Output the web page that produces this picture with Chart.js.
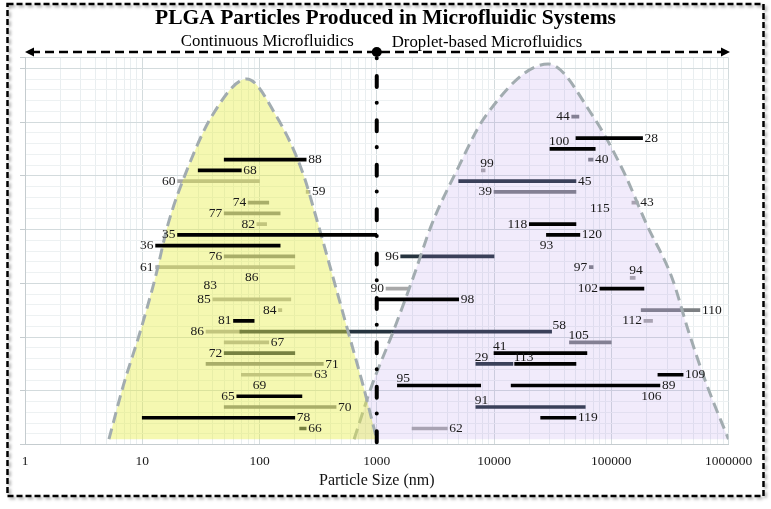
<!DOCTYPE html>
<html>
<head>
<meta charset="utf-8">
<script src="https://cdn.jsdelivr.net/npm/chart.js@4.4.1/dist/chart.umd.min.js"></script>
<style>
  html, body { margin: 0; background: #fff; }
  #contenedor { width: 771px; height: 509px; }
</style>
</head>
<body>
<div id="contenedor"><canvas id="graficaPLGA"></canvas></div>
<script>
// Datos: [referencia, fila, tamaño mínimo (nm), tamaño máximo (nm)]
const blackBars = [
    [88, 26, 50, 250], [68, 25, 30, 70], [35, 19, 20, 1000], [36, 18, 13, 150],
    [81, 11, 60, 90], [65, 4, 64, 230], [78, 2, 10, 200],
    [28, 28, 50000, 185000], [100, 27, 30000, 73000], [118, 20, 20000, 50000],
    [120, 19, 28000, 54000], [102, 14, 80000, 190000], [98, 13, 1000, 5000],
    [41, 8, 10000, 62000], [113, 7, 15000, 50000], [109, 6, 250000, 410000],
    [95, 5, 1500, 7700], [89, 5, 14000, 260000], [119, 2, 25000, 50000]
];
const slateBars = [
    [58, 10, 68, 31000], [45, 24, 5000, 50000], [96, 17, 1600, 10000],
    [29, 7, 7000, 14500], [91, 3, 7000, 60000], [72, 8, 50, 200], [66, 1, 220, 250]
];
const midGrayBars = [
    [74, 22, 80, 120], [77, 21, 50, 150], [76, 17, 50, 200], [71, 7, 35, 350],
    [70, 3, 50, 450], [39, 23, 10000, 50000], [105, 9, 44000, 100000],
    [110, 12, 180000, 570000], [97, 16, 65000, 70000], [44, 30, 46000, 53000],
    [40, 26, 64000, 70000]
];
const lightGrayBars = [
    [60, 24, 20, 100], [82, 20, 95, 115], [61, 16, 13, 200], [85, 13, 40, 185],
    [84, 12, 145, 155], [86, 10, 35, 70], [67, 9, 50, 120], [63, 6, 70, 280],
    [62, 1, 2000, 4000], [90, 14, 1200, 1900], [112, 11, 190000, 225000],
    [94, 15, 145000, 160000], [99, 25, 7800, 8400], [59, 23, 250, 270],
    [43, 22, 150000, 170000]
];
// referencias sin barra visible: [referencia, fila, tamaño (nm)]
const labelOnly = [[115, 21.5, 80000], [93, 18, 28000], [86, 15, 86], [83, 14.3, 38], [69, 5, 100], [106, 4, 220000]];

// lado de la etiqueta de cada barra (l = izquierda, r = derecha, a = arriba, ar = arriba derecha)
const blackSides = ['r', 'r', 'l', 'l', 'l', 'l', 'r', 'r', 'a', 'l', 'r', 'l', 'r', 'a', 'a', 'r', 'a', 'r', 'r'];
const slateSides = ['ar', 'r', 'l', 'a', 'a', 'l', 'r'];
const midGraySides = ['l', 'l', 'l', 'r', 'r', 'l', 'a', 'r', 'l', 'l', 'r'];
const lightGraySides = ['l', 'l', 'l', 'l', 'l', 'l', 'r', 'r', 'r', 'l', 'l', 'a', 'a', 'r', 'r'];

// Campanas de distribución
const yellowX = [5.2, 6.9, 9.6, 12.9, 16.6, 24, 39, 78, 140, 230, 316, 425, 570, 765, 1000];
const yellowY = [0, 5, 10, 15, 20, 25, 30, 33.5, 30, 25, 20, 15, 10, 5, 0];
const purpleX = [641, 908, 1380, 2040, 2950, 4820, 8410, 29000, 70200, 126000, 200000, 330000, 457000, 656000, 1000000];
const purpleY = [0, 5, 10, 15, 20, 25, 30, 34.9, 30, 25, 20, 15, 10, 5, 0];

const decades = [1, 10, 100, 1000, 10000, 100000, 1000000];
const divider = 1000;

const xTicks = [];
decades.forEach(d => {
    if (d === 1000000) { xTicks.push(d); return; }
    for (let m = 1; m <= 9; m++) xTicks.push(d * m);
});
const isDecade = v => decades.includes(v);
const tickVal = c => (c.tick ? c.tick.value : 0);

const toBars = list => list.map(b => ({ x: [b[2], b[3]], y: b[1], ref: b[0] }));
const toCurve = (xs, ys) => xs.map((x, i) => ({ x: x, y: ys[i] }));

const serif = 'Liberation Serif';
Chart.defaults.font.family = serif;

function barSet(label, list, sides, color, order) {
    return {
        type: 'bar', label: label, indexAxis: 'y', grouped: false,
        data: toBars(list), sides: sides,
        backgroundColor: color, barThickness: 3, order: order
    };
}
function bellSet(label, xs, ys, fill) {
    return {
        type: 'line', label: label, data: toCurve(xs, ys),
        borderColor: '#a2acb0', borderWidth: 3, borderDash: [11, 6],
        backgroundColor: fill, fill: 'origin', pointRadius: 0,
        cubicInterpolationMode: 'monotone', order: 1
    };
}

const decoracion = {
    id: 'decoracion',
    afterDatasetsDraw(chart) {
        const { ctx, chartArea, scales: { x, y } } = chart;
        const xd = x.getPixelForValue(divider);

        // línea de división
        ctx.save();
        ctx.strokeStyle = '#000';
        ctx.lineWidth = 4;
        ctx.lineCap = 'round';
        ctx.setLineDash([0.01, 17.6, 11, 15.8]);
        ctx.beginPath();
        ctx.moveTo(xd, chartArea.top + 0.8);
        ctx.lineTo(xd, chartArea.bottom - 1);
        ctx.stroke();
        ctx.restore();

        // etiquetas
        ctx.save();
        ctx.font = '13.5px "' + serif + '"';
        ctx.fillStyle = '#1a1a1a';
        ctx.textBaseline = 'middle';
        chart.data.datasets.forEach(ds => {
            if (!ds.sides) return;
            ds.data.forEach((d, i) => {
                const xs = x.getPixelForValue(d.x[0]);
                const xe = x.getPixelForValue(d.x[1]);
                const yp = y.getPixelForValue(d.y);
                const side = ds.sides[i];
                if (side === 'r') { ctx.textAlign = 'left'; ctx.fillText(d.ref, xe + 2, yp); }
                else if (side === 'l') { ctx.textAlign = 'right'; ctx.fillText(d.ref, xs - 2, yp); }
                else if (side === 'a') { ctx.textAlign = 'left'; ctx.fillText(d.ref, xs - 1, yp - 7); }
                else { ctx.textAlign = 'left'; ctx.fillText(d.ref, xe + 1, yp - 6); }
            });
        });
        ctx.textAlign = 'center';
        labelOnly.forEach(l => {
            ctx.fillText(l[0], x.getPixelForValue(l[2]), y.getPixelForValue(l[1]));
        });
        ctx.restore();
    },
    afterDraw(chart) {
        const { ctx, chartArea, scales: { x }, width } = chart;
        const xd = x.getPixelForValue(divider);
        const ya = chartArea.top - 5.5;
        const xl = chartArea.left;
        const xr = chartArea.right + 1.5;

        ctx.save();
        // título
        ctx.fillStyle = '#000';
        ctx.font = 'bold 21.5px "' + serif + '"';
        ctx.textAlign = 'center';
        ctx.textBaseline = 'middle';
        ctx.fillText('PLGA Particles Produced in Microfluidic Systems', width / 2, 18);

        // flecha superior
        ctx.strokeStyle = '#000';
        ctx.lineWidth = 2.5;
        ctx.setLineDash([9, 5]);
        ctx.beginPath();
        ctx.moveTo(xl + 6, ya);
        ctx.lineTo(xr - 6, ya);
        ctx.stroke();
        ctx.setLineDash([]);
        ctx.beginPath();
        ctx.moveTo(xl, ya); ctx.lineTo(xl + 9, ya - 4.5); ctx.lineTo(xl + 9, ya + 4.5); ctx.closePath();
        ctx.fill();
        ctx.beginPath();
        ctx.moveTo(xr, ya); ctx.lineTo(xr - 9, ya - 4.5); ctx.lineTo(xr - 9, ya + 4.5); ctx.closePath();
        ctx.fill();
        ctx.beginPath();
        ctx.arc(xd, ya, 5, 0, Math.PI * 2);
        ctx.fill();

        // subtítulos
        ctx.font = '16.8px "' + serif + '"';
        ctx.textAlign = 'right';
        ctx.fillText('Continuous Microfluidics', xd - 23, ya - 10);
        ctx.textAlign = 'left';
        ctx.fillText('Droplet-based Microfluidics', xd + 15, ya - 9);

        // marco discontinuo
        ctx.shadowColor = 'rgba(0,0,0,0.35)';
        ctx.shadowOffsetX = 2;
        ctx.shadowOffsetY = 2;
        ctx.shadowBlur = 3;
        ctx.lineWidth = 2.5;
        ctx.setLineDash([6, 3]);
        ctx.strokeRect(7.5, 4, 756, 492);
        ctx.restore();
    }
};

const ctxPLGA = document.getElementById('graficaPLGA').getContext('2d');
const graficaPLGA = new Chart(ctxPLGA, {
    type: 'scatter',
    data: {
        datasets: [
            barSet('Black', blackBars, blackSides, '#000000', 0),
            bellSet('Continuous', yellowX, yellowY, 'rgba(232, 238, 70, 0.42)'),
            bellSet('Droplet', purpleX, purpleY, 'rgba(170, 130, 230, 0.16)'),
            barSet('Slate', slateBars, slateSides, '#26343f', 2),
            barSet('Mid gray', midGrayBars, midGraySides, '#7d8083', 2),
            barSet('Light gray', lightGrayBars, lightGraySides, '#a8a8a8', 2)
        ]
    },
    plugins: [decoracion],
    options: {
        responsive: true,
        maintainAspectRatio: false,
        animation: false,
        layout: { padding: { left: 20, right: 42.5, top: 57.5, bottom: 8 } },
        plugins: {
            legend: { display: false },
            tooltip: { enabled: false },
            title: { display: false }
        },
        scales: {
            x: {
                type: 'logarithmic',
                min: 1,
                max: 1000000,
                offset: false,
                afterBuildTicks: scale => { scale.ticks = xTicks.map(v => ({ value: v, major: isDecade(v) })); },
                ticks: {
                    autoSkip: false,
                    maxRotation: 0,
                    padding: 9,
                    color: '#1a1a1a',
                    font: { family: serif, size: 13.5 },
                    callback: v => isDecade(v) ? String(v) : ''
                },
                grid: {
                    drawTicks: false,
                    color: c => isDecade(tickVal(c)) ? '#d3dbdd' : '#e9eef0'
                },
                border: { color: '#c5cccf' },
                title: {
                    display: true,
                    text: 'Particle Size (nm)',
                    color: '#111',
                    font: { family: serif, size: 16 },
                    padding: { top: -8, bottom: 11 }
                }
            },
            y: {
                type: 'linear',
                min: 0,
                max: 35,
                ticks: { display: false, stepSize: 1 },
                grid: {
                    tickLength: 5,
                    color: c => tickVal(c) % 5 === 0 ? '#d3dbdd' : '#edf1f2',
                    tickColor: c => tickVal(c) % 5 === 0 ? '#c5cccf' : 'rgba(0,0,0,0)'
                },
                border: { color: '#c5cccf' }
            }
        }
    }
});
</script>
</body>
</html>
